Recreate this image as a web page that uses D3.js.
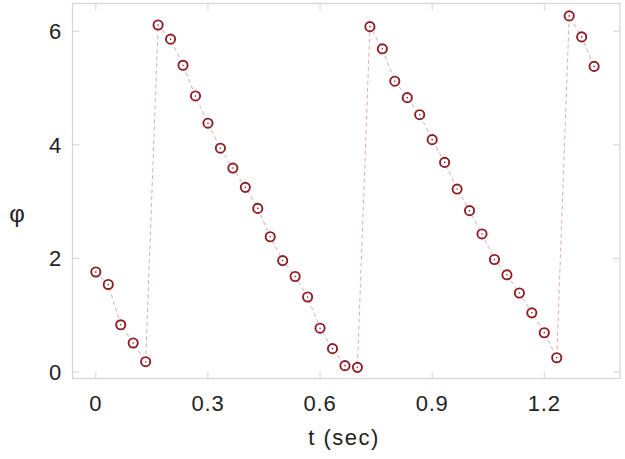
<!DOCTYPE html>
<html>
<head>
<meta charset="utf-8">
<script src="https://cdn.jsdelivr.net/npm/d3@7"></script>
<style>
  body { margin: 0; background: #fff; }
  svg { display: block; font-family: "Liberation Sans", Arial, sans-serif; }
  .frame { fill: none; stroke: #d4d4d4; stroke-width: 1.2; }
  .tick-line { stroke: #d4d4d4; stroke-width: 1; }
  .tick-label { fill: #222; font-size: 22px; letter-spacing: 0.8px; }
</style>
</head>
<body>
<svg id="chart" width="625" height="459"></svg>
<script>
// Data, sampled every 1/30 s
var dt = 1 / 30;
var phi = [1.76, 1.54, 0.83, 0.51, 0.18, 6.11, 5.86, 5.40, 4.86, 4.38,
           3.94, 3.59, 3.25, 2.88, 2.38, 1.96, 1.68, 1.32, 0.77, 0.41,
           0.11, 0.08, 6.08, 5.69, 5.12, 4.83, 4.53, 4.09, 3.69, 3.22,
           2.84, 2.43, 1.98, 1.71, 1.39, 1.04, 0.69, 0.25, 6.27, 5.90, 5.38];
var times = phi.map(function(d, i) { return i * dt; });
var xTicks = [0, 0.3, 0.6, 0.9, 1.2];
var yTicks = [0, 2, 4, 6];

// Frame edges
var frameL = 72.5, frameR = 620, frameT = 3.5, frameB = 378.5;

var x = d3.scaleLinear()
    .domain([-0.0624, 1.4026])
    .range([frameL, frameR]);

var y = d3.scaleLinear()
    .domain([-0.116, 6.488])
    .range([frameB, frameT]);

var svg = d3.select("#chart");

svg.append("rect")
    .attr("class", "frame")
    .attr("x", frameL)
    .attr("y", frameT)
    .attr("width", frameR - frameL)
    .attr("height", frameB - frameT);

var tickLen = 7;

// x ticks (bottom + top, inward)
xTicks.forEach(function(t) {
    svg.append("line").attr("class", "tick-line")
        .attr("x1", x(t)).attr("x2", x(t))
        .attr("y1", frameB).attr("y2", frameB - tickLen);
    svg.append("line").attr("class", "tick-line")
        .attr("x1", x(t)).attr("x2", x(t))
        .attr("y1", frameT).attr("y2", frameT + tickLen);
});

// y ticks (left + right, inward)
yTicks.forEach(function(v) {
    svg.append("line").attr("class", "tick-line")
        .attr("x1", frameL).attr("x2", frameL + tickLen)
        .attr("y1", y(v)).attr("y2", y(v));
    svg.append("line").attr("class", "tick-line")
        .attr("x1", frameR).attr("x2", frameR - tickLen)
        .attr("y1", y(v)).attr("y2", y(v));
});

svg.selectAll(".xlab")
    .data(xTicks)
    .enter()
    .append("text")
    .attr("class", "tick-label xlab")
    .attr("x", function(d) { return x(d); })
    .attr("y", 411)
    .attr("text-anchor", "middle")
    .text(function(d) { return d === 0 ? "0" : d3.format(".1f")(d); });

svg.selectAll(".ylab")
    .data(yTicks)
    .enter()
    .append("text")
    .attr("class", "tick-label ylab")
    .attr("x", 62)
    .attr("y", function(d) { return y(d) + 8; })
    .attr("text-anchor", "end")
    .text(function(d) { return d; });

// Axis titles
svg.append("text")
    .attr("x", 344)
    .attr("y", 445)
    .attr("text-anchor", "middle")
    .style("font-size", "22px")
    .style("letter-spacing", "1.5px")
    .style("fill", "#222")
    .text("t (sec)");

svg.append("text")
    .attr("x", 17)
    .attr("y", 222)
    .attr("text-anchor", "middle")
    .style("font-size", "24px")
    .style("fill", "#222")
    .text("φ");

// Dashed connecting line
var line = d3.line()
    .x(function(d, i) { return x(times[i]); })
    .y(function(d) { return y(d); });

svg.append("path")
    .datum(phi)
    .attr("d", line)
    .attr("fill", "none")
    .attr("stroke", "#e3a9b0")
    .attr("stroke-width", 1)
    .attr("stroke-dasharray", "4,3");

// Markers
var pts = svg.selectAll(".pt")
    .data(phi)
    .enter()
    .append("g")
    .attr("class", "pt")
    .attr("transform", function(d, i) { return "translate(" + x(times[i]) + "," + y(d) + ")"; });

pts.append("circle")
    .attr("r", 4.6)
    .attr("fill", "#fff")
    .attr("stroke", "#8e1e26")
    .attr("stroke-width", 1.9);

pts.append("circle")
    .attr("r", 0.8)
    .attr("fill", "#8e1e26");
</script>
</body>
</html>
